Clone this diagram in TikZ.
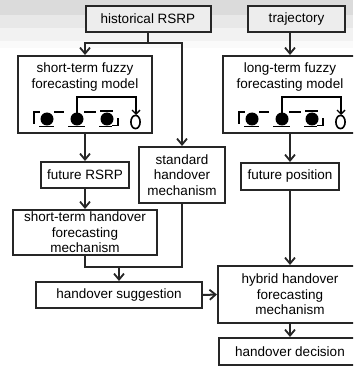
\documentclass[tikz,border=0pt]{standalone}
\usepackage{fontspec}
\setmainfont{Liberation Sans}
\usetikzlibrary{arrows.meta}
\begin{document}
\begin{tikzpicture}[x=1pt,y=-1pt,
  font=\fontsize{13.5}{15.5}\selectfont,
  box/.style={draw=black!85, line width=2pt, fill=white, inner sep=0pt, align=center},
  topbox/.style={box, fill=black!7},
  conn/.style={draw=black!85, line width=2pt},
  arr/.style={conn, -{Straight Barb[length=6pt,width=10pt,line width=1.8pt]}},
  icon/.style={line width=1.6pt, black},
  pics/shiftreg/.style={code={
    % left bracket and first cell
    \draw[icon] (16,124) -- (16,112) -- (22,112);
    \fill (29,119) circle (6.5);
    \draw[icon] (21,126.5) -- (36,126.5);
    \draw[icon] (36,112) -- (46,112);
    % second cell, tapped for feedback
    \fill (59,119) circle (6.5);
    \draw[icon] (50,126.5) -- (67,126.5);
    \draw[icon] (66,112) -- (78,112);
    % third cell with closing bracket
    \fill (89,119) circle (6.5);
    \draw[icon] (82,111) -- (95,111);
    \draw[icon] (81,126.5) -- (94,126.5);
    \draw[icon] (94,125.5) -- (100,125.5) -- (100,118);
    % output neuron and feedback loop
    \draw[icon] (117.5,122) ellipse (4.6 and 6.6);
    \draw[icon, -{Straight Barb[length=4pt,width=8pt,line width=1.4pt]}]
      (59,113) -- (59,97) -- (118,97) -- (118,115);
  }}
]
\useasboundingbox (0,0) rectangle (353,366);
\clip (0,0) rectangle (353,366);
% shaded header bands
\fill[black!14] (0,0) rectangle (353,15);
\fill[black!9] (0,15) rectangle (353,28);
\fill[black!5] (0,28) rectangle (353,41);
\fill[black!2] (0,41) rectangle (353,48);

% inputs
\node[topbox, minimum width=125pt, minimum height=26pt] (hist) at (148,19) {historical RSRP};
\node[topbox, minimum width=97pt, minimum height=26pt] (traj) at (296.5,19) {trajectory};

% fuzzy forecasting models
\node[box, minimum width=134pt, minimum height=77pt] (stf) at (85,94.5) {};
\node[align=center, inner sep=0pt] (stft) at (85,77) {short-term fuzzy\\forecasting model};
\pic at (18,0) {shiftreg};
\node[box, minimum width=134pt, minimum height=77pt] (ltf) at (290,94.5) {};
\node[align=center, inner sep=0pt] (ltft) at (290,77) {long-term fuzzy\\forecasting model};
\pic at (223,0) {shiftreg};

% intermediate results
\node[box, minimum width=88pt, minimum height=26pt] (frsrp) at (85,175) {future RSRP};
\node[box, minimum width=86pt, minimum height=56pt] (std) at (182,175) {standard\\handover\\mechanism};
\node[box, minimum width=98pt, minimum height=27pt] (fpos) at (290,176.5) {future position};
\node[box, minimum width=144pt, minimum height=45pt] (sthf) at (85,232.5) {short-term handover\\forecasting\\mechanism};
\node[box, minimum width=166pt, minimum height=26pt] (hsug) at (119,295) {handover suggestion};
\node[box, minimum width=144pt, minimum height=57pt] (hyb) at (290,294.5) {hybrid handover\\forecasting\\mechanism};
\node[box, minimum width=142pt, minimum height=27pt] (hdec) at (290,351.5) {handover decision};

% connectors
\coordinate (hj) at (148,43);
\draw[conn] (hist.south) -- (hj);
\draw[arr] (hj) -| (stf.north);
\draw[arr] (hj) -| (std.north);
\draw[arr] (traj.south -| ltf.north) -- (ltf.north);
\draw[arr] (stf.south) -- (frsrp.north);
\draw[arr] (ltf.south) -- (fpos.north -| ltf.south);
\draw[arr] (frsrp.south) -- (sthf.north);
\coordinate (mj) at (119,267);
\draw[conn] (sthf.south) |- (mj);
\draw[conn] (std.south) |- (mj);
\draw[arr] (mj) -- (hsug.north);
\draw[arr] (hsug.east) -- (hyb.west);
\draw[arr] (fpos.south -| hyb.north) -- (hyb.north);
\draw[arr] (hyb.south) -- (hdec.north);
\end{tikzpicture}
\end{document}
